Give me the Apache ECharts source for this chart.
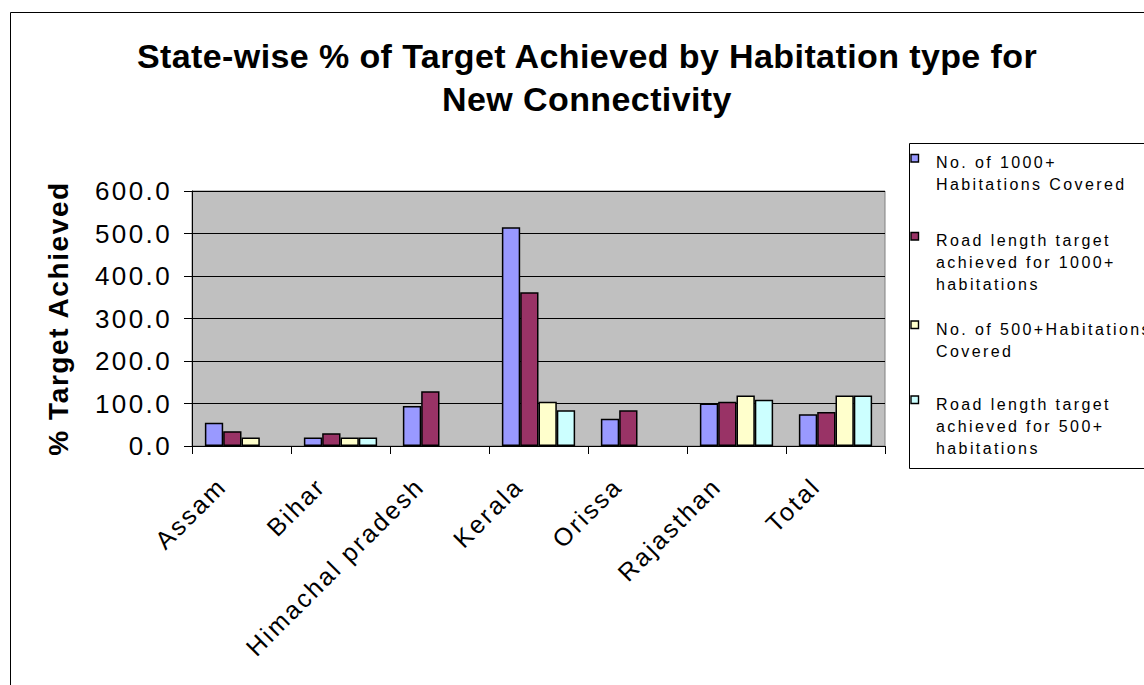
<!DOCTYPE html>
<html>
<head>
<meta charset="utf-8">
<title>State-wise % of Target Achieved by Habitation type for New Connectivity</title>
<script src="https://cdn.jsdelivr.net/npm/echarts@6/dist/echarts.min.js"></script>
<style>
  html, body { margin: 0; padding: 0; background: #ffffff; }
  #chart { width: 1144px; height: 685px; }
</style>
</head>
<body>
<div id="chart"></div>
<script>
// States on the category axis
var categories = ['Assam', 'Bihar', 'Himachal pradesh', 'Kerala', 'Orissa', 'Rajasthan', 'Total'];

// % of target achieved, one array per habitation measure (null = no bar)
var hab1000Covered = [55, 20, 94, 515, 64, 100, 75];
var road1000Achieved = [35, 30, 129, 362, 84, 104, 80];
var hab500Covered = [20, 20, null, 104, null, 119, 119];
var road500Achieved = [null, 20, null, 84, null, 109, 119];

var seriesNames = [
  'No. of 1000+ Habitations Covered',
  'Road length target achieved for 1000+ habitations',
  'No. of 500+Habitations Covered',
  'Road length target achieved for 500+ habitations'
];
// Wrapped legend text, one entry per series
var legendLines = [
  ['No. of 1000+', 'Habitations Covered'],
  ['Road length target', 'achieved for 1000+', 'habitations'],
  ['No. of 500+Habitations', 'Covered'],
  ['Road length target', 'achieved for 500+', 'habitations']
];
var seriesColors = ['#9999FF', '#993366', '#FFFFCC', '#CCFFFF'];

// Y axis range
var yMin = 0, yMax = 600, yStep = 100;

var FONT = '"Liberation Sans", Arial, Helvetica, sans-serif';
var seriesValues = [hab1000Covered, road1000Achieved, hab500Covered, road500Achieved];

var series = seriesValues.map(function (vals, i) {
  return {
    name: seriesNames[i],
    type: 'bar',
    data: vals.map(function (v) { return v == null ? '-' : v; }),
    barGap: '0%',
    barCategoryGap: '26%',
    itemStyle: { color: seriesColors[i], borderColor: '#000000', borderWidth: 1.5 },
    emphasis: { disabled: true },
    animation: false
  };
});

// Legend box drawn as a framed list with square swatches
var legendTops = [151.5, 229.5, 318, 393];
var legendLineH = 22;
var legendChildren = [{
  type: 'rect',
  shape: { x: 909.5, y: 143.5, width: 300, height: 325 },
  style: { fill: '#ffffff', stroke: '#000000', lineWidth: 1 }
}];
legendLines.forEach(function (lines, i) {
  var top = legendTops[i];
  legendChildren.push({
    type: 'rect',
    shape: { x: 911, y: top + 3, width: 7.5, height: 7.5 },
    style: { fill: seriesColors[i], stroke: '#000000', lineWidth: 1.4 }
  });
  legendChildren.push({
    type: 'text',
    x: 936, y: top,
    style: {
      text: lines.join('\n'),
      fill: '#000000',
      font: '16px ' + FONT,
      lineHeight: legendLineH,
      align: 'left',
      verticalAlign: 'top'
    }
  });
});

var chart = echarts.init(document.getElementById('chart'), null, { renderer: 'svg' });

chart.setOption({
  animation: false,
  backgroundColor: '#ffffff',
  title: {
    text: 'State-wise % of Target Achieved by Habitation type for\nNew Connectivity',
    left: 587,
    top: 34,
    padding: 0,
    textAlign: 'center',
    textStyle: {
      fontFamily: FONT,
      fontSize: 34,
      fontWeight: 'bold',
      color: '#000000',
      lineHeight: 43
    }
  },
  grid: {
    left: 192,
    right: 259,
    top: 191,
    bottom: 239,
    show: true,
    backgroundColor: '#C0C0C0',
    borderColor: '#808080',
    borderWidth: 1
  },
  xAxis: {
    type: 'category',
    data: categories,
    axisLine: { show: true, lineStyle: { color: '#000000', width: 1 } },
    axisTick: { show: true, length: 8, lineStyle: { color: '#000000' } },
    axisLabel: {
      rotate: 45,
      margin: 16,
      padding: [0, 28, 0, 0],
      fontFamily: FONT,
      fontSize: 25,
      color: '#000000',
      interval: 0
    },
    splitLine: { show: false }
  },
  yAxis: {
    type: 'value',
    min: yMin,
    max: yMax,
    interval: yStep,
    name: '% Target Achieved',
    nameLocation: 'middle',
    nameRotate: 90,
    nameGap: 120,
    nameTextStyle: {
      fontFamily: FONT,
      fontSize: 28,
      fontWeight: 'bold',
      color: '#000000'
    },
    axisLine: { show: true, lineStyle: { color: '#000000', width: 1 } },
    axisTick: { show: true, length: 8, lineStyle: { color: '#000000' } },
    axisLabel: {
      margin: 20,
      fontFamily: FONT,
      fontSize: 26,
      color: '#000000',
      formatter: function (v) { return v.toFixed(1); }
    },
    splitLine: { show: true, lineStyle: { color: '#000000', width: 1 } }
  },
  series: series,
  graphic: [
    {
      type: 'rect',
      silent: true,
      z: -10,
      shape: { x: 10.5, y: 12.5, width: 1200, height: 700 },
      style: { fill: 'none', stroke: '#000000', lineWidth: 1 }
    },
    { type: 'group', children: legendChildren }
  ]
});

// Loose letter spacing on the chart lettering, tighter on the big bold title
function spaceLetters() {
  var texts = document.querySelectorAll('#chart text');
  texts.forEach(function (t) {
    var s = t.getAttribute('style') || '';
    var m = s.match(/(\d+(?:\.\d+)?)px/);
    var size = m ? parseFloat(m[1]) : 12;
    var sp = size >= 30 ? 0.4 : (/bold/.test(s) ? 1.6 : 2.4);
    t.setAttribute('letter-spacing', sp);
  });
}
chart.getZr().flush();
spaceLetters();
chart.on('finished', spaceLetters);
</script>
</body>
</html>
